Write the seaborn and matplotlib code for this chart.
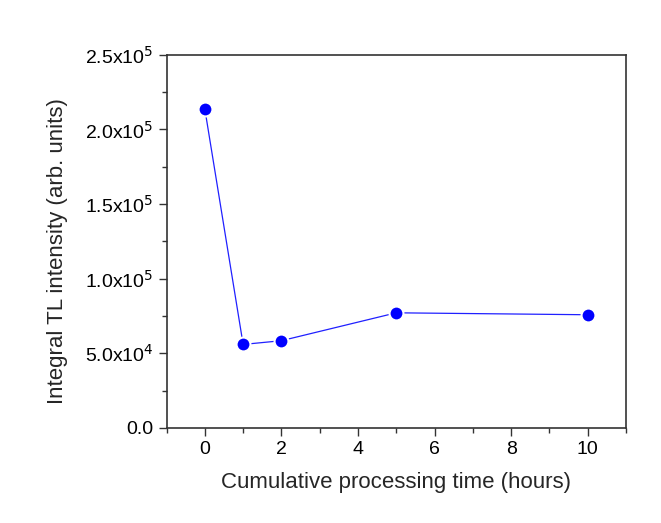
import matplotlib
matplotlib.use("Agg")
import math
import matplotlib.pyplot as plt
import seaborn as sns
import pandas as pd
from matplotlib.ticker import MultipleLocator, FuncFormatter

time_hours = [0, 1, 2, 5, 10]
intensity = [213600, 55900, 58400, 77100, 75800]

sns.set_style("ticks")
plt.rcParams['font.family'] = ['Liberation Sans', 'DejaVu Sans']

df = pd.DataFrame({"t": time_hours, "I": intensity})

fig = plt.figure(figsize=(6.61, 5.23), dpi=100)
ax = fig.add_axes([0.252, 0.182, 0.695, 0.713])
sns.lineplot(data=df, x="t", y="I", ax=ax, color="#2020ff", linewidth=0.9,
             marker="o", markersize=10, markeredgecolor="white",
             markeredgewidth=1.5, markerfacecolor="#0000ff")

ax.set_xlim(-1, 11)
ax.set_ylim(0, 2.5e5)
ax.xaxis.set_major_locator(MultipleLocator(2))
ax.xaxis.set_minor_locator(MultipleLocator(1))
ax.yaxis.set_major_locator(MultipleLocator(5e4))
ax.yaxis.set_minor_locator(MultipleLocator(2.5e4))

def yfmt(v, pos):
    if v == 0:
        return "0.0"
    e = int(math.floor(math.log10(abs(v))))
    m = v / 10**e
    return r"%.1fx10$^{%d}$" % (m, e)

ax.yaxis.set_major_formatter(FuncFormatter(yfmt))
ax.tick_params(axis="both", which="major", direction="out", length=6, width=1,
               labelsize=14, colors="#333333", labelcolor="black")
ax.tick_params(axis="both", which="minor", direction="out", length=3.5, width=1,
               colors="#333333")
for s in ax.spines.values():
    s.set_visible(True)
    s.set_linewidth(1.2)
    s.set_color("#333333")

ax.set_xlabel("Cumulative processing time (hours)", fontsize=16, labelpad=10)
ax.set_ylabel("Integral TL intensity (arb. units)", fontsize=16)
ax.yaxis.set_label_coords(-0.215, 0.474)

fig.savefig("out.png", dpi=100, facecolor="white")
